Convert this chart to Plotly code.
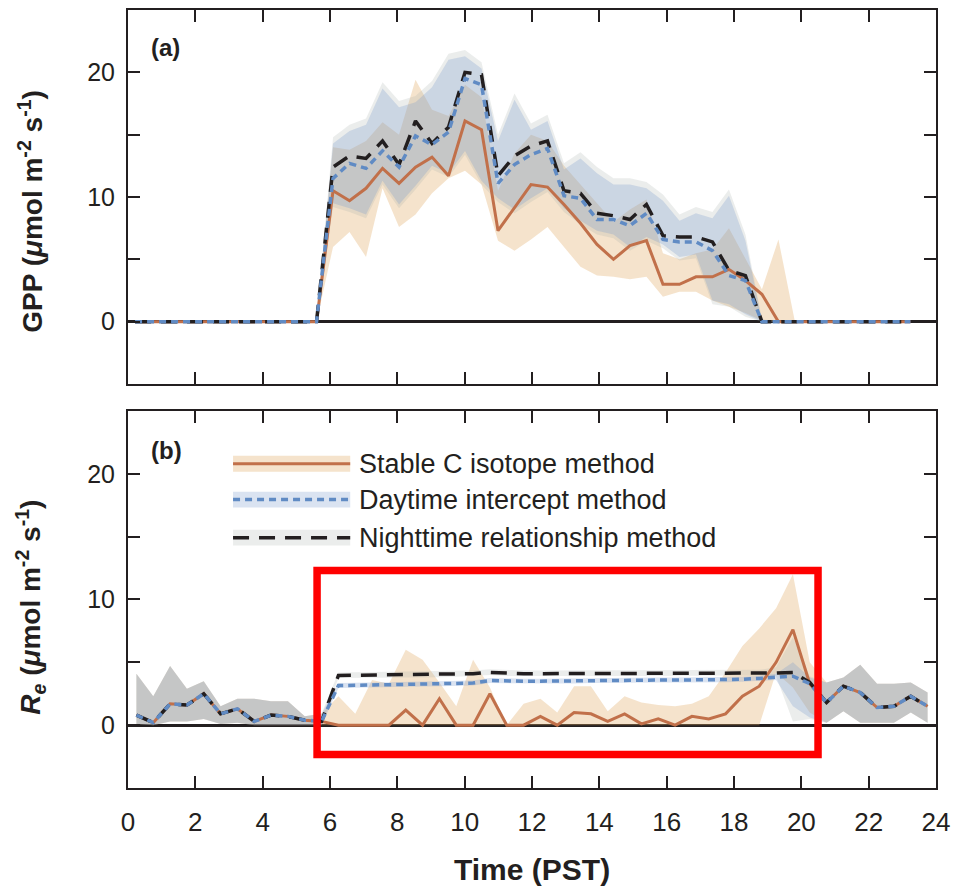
import plotly.graph_objects as go

# ---------------------------------------------------------------------------
# Data: half-hourly diel courses (hours PST)
# ---------------------------------------------------------------------------
hour_a = [0.21, 0.70, 1.19, 1.68, 2.17, 2.66, 3.15, 3.64, 4.13, 4.62, 5.11, 5.60,
          6.09, 6.58, 7.07, 7.56, 8.05, 8.54, 9.03, 9.52, 10.01, 10.50, 10.99, 11.48,
          11.97, 12.46, 12.95, 13.44, 13.93, 14.42, 14.91, 15.40, 15.89, 16.38, 16.87, 17.36,
          17.85, 18.34, 18.83, 19.32, 19.81, 20.30, 20.79, 21.28, 21.77, 22.26, 22.75, 23.24]

hour_b = [0.25, 0.75, 1.25, 1.75, 2.25, 2.75, 3.25, 3.75, 4.25, 4.75, 5.25, 5.75,
          6.25, 6.75, 7.25, 7.75, 8.25, 8.75, 9.25, 9.75, 10.25, 10.75, 11.25, 11.75,
          12.25, 12.75, 13.25, 13.75, 14.25, 14.75, 15.25, 15.75, 16.25, 16.75, 17.25, 17.75,
          18.25, 18.75, 19.25, 19.75, 20.25, 20.75, 21.25, 21.75, 22.25, 22.75, 23.25, 23.75]

# (a) GPP
gpp_isotope = [0, 0, 0, 0, 0, 0, 0, 0, 0, 0, 0, 0,
               10.5, 9.7, 10.7, 12.3, 11.1, 12.4, 13.2, 11.7, 16.1, 15.4, 7.3, 9.1,
               11.0, 10.8, 9.4, 7.9, 6.2, 5.0, 6.1, 6.5, 3.0, 3.0, 3.6, 3.6,
               4.2, 3.3, 2.2, 0, 0, 0, 0, 0, 0, 0, 0, 0]
gpp_isotope_lo = [0, 0, 0, 0, 0, 0, 0, 0, 0, 0, 0, 0,
                  6.0, 7.2, 5.2, 10.7, 7.6, 8.6, 10.3, 11.5, 12.1, 11.0, 6.5, 5.7,
                  6.6, 7.6, 6.0, 4.4, 3.7, 3.6, 3.4, 3.6, 2.0, 2.4, 2.4, 1.7,
                  1.2, 0.7, 0.1, 0, 0, 0, 0, 0, 0, 0, 0, 0]
gpp_isotope_hi = [0, 0, 0, 0, 0, 0, 0, 0, 0, 0, 0, 0,
                  14.0, 13.8, 14.5, 16.0, 15.0, 19.4, 17.0, 16.5, 19.0, 18.0, 10.5, 13.5,
                  15.0, 14.5, 12.5, 11.0, 9.5, 8.0, 9.0, 9.8, 5.5, 5.0, 5.5, 5.8,
                  7.5, 5.0, 2.6, 6.6, 0, 0, 0, 0, 0, 0, 0, 0]

gpp_daytime = [0, 0, 0, 0, 0, 0, 0, 0, 0, 0, 0, 0,
               11.5, 12.7, 12.3, 13.7, 12.4, 14.9, 14.2, 15.2, 19.5, 19.0, 11.1, 12.6,
               13.4, 13.9, 10.1, 9.9, 8.2, 8.2, 7.7, 8.7, 6.6, 6.4, 6.4, 5.7,
               3.7, 3.3, 0, 0, 0, 0, 0, 0, 0, 0, 0, 0]
gpp_daytime_lo = [0, 0, 0, 0, 0, 0, 0, 0, 0, 0, 0, 0,
                  9.5, 9.1, 8.6, 11.3, 9.4, 10.9, 12.5, 11.9, 13.7, 11.3, 9.9, 9.0,
                  9.9, 10.7, 9.1, 8.1, 7.3, 7.0, 6.0, 6.8, 6.2, 5.2, 5.4, 1.7,
                  1.4, 0.6, 0, 0, 0, 0, 0, 0, 0, 0, 0, 0]
gpp_daytime_hi = [0, 0, 0, 0, 0, 0, 0, 0, 0, 0, 0, 0,
                  14.3, 15.3, 15.8, 18.7, 17.2, 17.6, 18.8, 21.0, 21.3, 20.3, 14.5, 17.8,
                  15.4, 16.1, 12.2, 13.1, 11.9, 11.0, 11.0, 10.7, 9.7, 8.1, 8.7, 8.3,
                  10.1, 6.5, 0.1, 0, 0, 0, 0, 0, 0, 0, 0, 0]

gpp_nighttime = [0, 0, 0, 0, 0, 0, 0, 0, 0, 0, 0, 0,
                 12.4, 13.3, 13.1, 14.5, 12.6, 16.1, 14.3, 15.6, 20.0, 19.8, 11.7, 13.3,
                 14.1, 14.5, 10.5, 10.3, 8.7, 8.5, 8.2, 9.4, 6.9, 6.8, 6.8, 6.4,
                 4.1, 3.7, 0, 0, 0, 0, 0, 0, 0, 0, 0, 0]
gpp_nighttime_lo = [0, 0, 0, 0, 0, 0, 0, 0, 0, 0, 0, 0,
                    9.2, 8.8, 8.3, 11.0, 9.1, 10.6, 12.2, 11.6, 13.4, 11.0, 9.6, 8.7,
                    9.6, 10.4, 8.8, 7.8, 7.0, 6.7, 5.7, 6.5, 5.9, 4.9, 5.1, 1.4,
                    1.2, 0.4, 0, 0, 0, 0, 0, 0, 0, 0, 0, 0]
gpp_nighttime_hi = [0, 0, 0, 0, 0, 0, 0, 0, 0, 0, 0, 0,
                    14.8, 15.8, 16.3, 19.2, 17.7, 18.1, 19.3, 21.5, 21.8, 20.8, 15.0, 18.3,
                    15.9, 16.6, 12.7, 13.6, 12.4, 11.5, 11.5, 11.2, 10.2, 8.6, 9.2, 8.8,
                    10.6, 7.0, 0.2, 0, 0, 0, 0, 0, 0, 0, 0, 0]

# (b) Re -- night hours are common to all three methods
re_pre_dawn = [0.8, 0.2, 1.7, 1.6, 2.5, 0.9, 1.3, 0.3, 0.8, 0.7, 0.4, 0.3]
re_pre_dawn_lo = [0.1, 0.0, 0.3, 0.3, 0.5, 0.1, 0.2, 0.0, 0.0, 0.0, 0.0, 0.0]
re_pre_dawn_hi = [4.1, 2.3, 4.7, 2.9, 3.5, 1.5, 2.1, 2.1, 1.9, 1.9, 0.7, 0.9]
re_evening = [1.8, 3.1, 2.6, 1.4, 1.5, 2.3, 1.5]
re_evening_lo = [0.2, 1.1, 0.2, 0.2, 0.2, 1.0, 0.2]
re_evening_hi = [3.4, 3.8, 4.8, 3.3, 3.3, 3.4, 2.6]

re_isotope_day = [0, 0, 0, 0, 1.2, 0, 2.1, 0, 0, 2.5, 0, 0, 0.7, 0, 1.0, 0.9, 0.3,
                  0.9, 0.1, 0.5, 0, 0.7, 0.5, 0.9, 2.3, 3.1, 5.0, 7.6, 3.3]
re_isotope_day_lo = [0, 0, 0, 0, 0, 0, 0, 0, 0, 0, 0, 0, 0, 0, 0, 0, 0,
                     0, 0, 0, 0, 0, 0, 0, 0, 0, 4.2, 3.0, 1.0]
re_isotope_day_hi = [2.3, 0.9, 3.6, 3.3, 6.0, 5.2, 3.4, 1.5, 5.2, 3.0, 0.0, 1.7, 2.1, 1.0, 3.1, 3.1, 1.1,
                     2.3, 1.8, 1.6, 1.5, 1.7, 2.3, 4.2, 6.3, 7.7, 9.3, 12.0, 5.0]

re_daytime_day = [3.15, 3.2, 3.2, 3.22, 3.25, 3.27, 3.3, 3.3, 3.35, 3.55, 3.5, 3.5, 3.5, 3.52, 3.52,
                  3.55, 3.55, 3.58, 3.6, 3.6, 3.6, 3.6, 3.6, 3.62, 3.65, 3.72, 3.82, 3.9, 3.3]
re_daytime_day_lo = [2.95, 3.0, 3.0, 3.02, 3.05, 3.07, 3.1, 3.1, 3.15, 3.35, 3.3, 3.3, 3.3, 3.32, 3.32,
                     3.35, 3.35, 3.38, 3.4, 3.4, 3.4, 3.4, 3.4, 3.42, 3.45, 3.52, 3.6, 1.5, 0.6]
re_daytime_day_hi = [3.35, 3.4, 3.4, 3.42, 3.45, 3.47, 3.5, 3.5, 3.55, 3.75, 3.7, 3.7, 3.7, 3.72, 3.72,
                     3.75, 3.75, 3.78, 3.8, 3.8, 3.8, 3.8, 3.8, 3.82, 3.85, 3.92, 4.1, 5.0, 3.8]

re_nighttime_day = [3.95, 3.97, 3.98, 3.99, 4.0, 4.0, 4.02, 4.05, 4.1, 4.2, 4.12, 4.1, 4.1, 4.1, 4.1,
                    4.1, 4.1, 4.12, 4.12, 4.12, 4.13, 4.13, 4.13, 4.15, 4.15, 4.15, 4.15, 4.2, 3.4]
re_nighttime_day_lo = [3.75, 3.77, 3.78, 3.79, 3.8, 3.8, 3.82, 3.85, 3.9, 4.0, 3.92, 3.9, 3.9, 3.9, 3.9,
                       3.9, 3.9, 3.92, 3.92, 3.92, 3.93, 3.93, 3.93, 3.95, 3.95, 3.95, 3.9, 0.3, 0.5]
re_nighttime_day_hi = [4.2, 4.22, 4.23, 4.24, 4.25, 4.25, 4.27, 4.3, 4.35, 4.45, 4.37, 4.35, 4.35, 4.35, 4.35,
                       4.35, 4.35, 4.37, 4.37, 4.37, 4.38, 4.38, 4.38, 4.4, 4.4, 4.4, 4.6, 7.0, 3.9]

x_ticks = [0, 2, 4, 6, 8, 10, 12, 14, 16, 18, 20, 22, 24]
y_ticks = [0, 5, 10, 15, 20]
y_tick_text = ["0", "", "10", "", "20"]

methods = ["Stable C isotope method", "Daytime intercept method", "Nighttime relationship method"]

# ---------------------------------------------------------------------------
# Styling
# ---------------------------------------------------------------------------
INK = "#231f20"
FONT = "Liberation Sans, Arial, Helvetica, sans-serif"

line_color = {"iso": "#c1704a", "day": "#608bc4", "night": INK}
band_color = {"iso": "rgba(225,170,100,0.33)", "day": "rgba(120,150,205,0.27)",
              "night": "rgba(165,172,170,0.22)"}
line_dash = {"iso": "solid", "day": "7px,5px", "night": "16px,10px"}
line_width = {"iso": 3, "day": 3.5, "night": 3.5}

fig = go.Figure()


def add_band(x, lo, hi, key, xa, ya):
    fig.add_trace(go.Scatter(
        x=list(x) + list(x)[::-1], y=list(hi) + list(lo)[::-1],
        mode="lines", fill="toself", fillcolor=band_color[key],
        line=dict(width=0), hoverinfo="skip", showlegend=False,
        xaxis=xa, yaxis=ya))


def add_line(x, y, key, xa, ya):
    fig.add_trace(go.Scatter(
        x=x, y=y, mode="lines",
        line=dict(color=line_color[key], width=line_width[key], dash=line_dash[key]),
        showlegend=False, xaxis=xa, yaxis=ya))


# Panel (a)
add_band(hour_a, gpp_isotope_lo, gpp_isotope_hi, "iso", "x", "y")
add_band(hour_a, gpp_nighttime_lo, gpp_nighttime_hi, "night", "x", "y")
add_band(hour_a, gpp_daytime_lo, gpp_daytime_hi, "day", "x", "y")
add_line(hour_a, gpp_isotope, "iso", "x", "y")
add_line(hour_a, gpp_nighttime, "night", "x", "y")
add_line(hour_a, gpp_daytime, "day", "x", "y")

# Panel (b): assemble full-day series from night and daytime parts
re_iso = re_pre_dawn + re_isotope_day + re_evening
re_iso_lo = re_pre_dawn_lo + re_isotope_day_lo + re_evening_lo
re_iso_hi = re_pre_dawn_hi + re_isotope_day_hi + re_evening_hi
re_day = re_pre_dawn + re_daytime_day + re_evening
re_day_lo = re_pre_dawn_lo + re_daytime_day_lo + re_evening_lo
re_day_hi = re_pre_dawn_hi + re_daytime_day_hi + re_evening_hi
re_nig = re_pre_dawn + re_nighttime_day + re_evening
re_nig_lo = re_pre_dawn_lo + re_nighttime_day_lo + re_evening_lo
re_nig_hi = re_pre_dawn_hi + re_nighttime_day_hi + re_evening_hi

add_band(hour_b, re_iso_lo, re_iso_hi, "iso", "x2", "y2")
add_band(hour_b, re_nig_lo, re_nig_hi, "night", "x2", "y2")
add_band(hour_b, re_day_lo, re_day_hi, "day", "x2", "y2")
add_line(hour_b, re_iso, "iso", "x2", "y2")
add_line(hour_b, re_nig, "night", "x2", "y2")
add_line(hour_b, re_day, "day", "x2", "y2")

axis_common = dict(
    showline=True, linecolor=INK, linewidth=2, mirror="ticks",
    ticks="inside", ticklen=12, tickwidth=2, tickcolor=INK,
    showgrid=False, tickfont=dict(family=FONT, size=25, color=INK),
)

x_common = dict(axis_common, range=[0, 24], tickmode="array", tickvals=x_ticks, zeroline=False)
y_common = dict(axis_common, range=[-5, 25], tickmode="array", tickvals=y_ticks,
                ticktext=y_tick_text, zeroline=True, zerolinecolor=INK, zerolinewidth=2.5,
                ticklabelstandoff=6)

fig.update_layout(
    width=965, height=889, autosize=False,
    margin=dict(l=128, r=29, t=8, b=101),
    paper_bgcolor="white", plot_bgcolor="white",
    showlegend=False,
    xaxis=dict(x_common, domain=[0, 1], anchor="y", showticklabels=False),
    yaxis=dict(y_common, domain=[0.5192, 1], anchor="x"),
    xaxis2=dict(x_common, domain=[0, 1], anchor="y2",
                tickfont=dict(family=FONT, size=26, color=INK), ticklabelstandoff=10),
    yaxis2=dict(y_common, domain=[0, 0.4846], anchor="x2"),
)

# Axis titles and panel tags
title_font = dict(family=FONT, size=28, color=INK)
annotations = [
    dict(text="<b>GPP (<i>μ</i>mol m<sup>-2</sup> s<sup>-1</sup>)</b>", textangle=-90,
         xref="paper", yref="paper", x=-0.121, y=0.741, xanchor="center", yanchor="middle",
         showarrow=False, font=title_font),
    dict(text="<b><i>R<sub>e</sub></i> (<i>μ</i>mol m<sup>-2</sup> s<sup>-1</sup>)</b>", textangle=-90,
         xref="paper", yref="paper", x=-0.121, y=0.232, xanchor="center", yanchor="middle",
         showarrow=False, font=title_font),
    dict(text="<b>Time (PST)</b>", xref="paper", yref="paper", x=0.5, y=-0.105,
         xanchor="center", yanchor="middle", showarrow=False,
         font=dict(family=FONT, size=30, color=INK)),
    dict(text="<b>(a)</b>", xref="x domain", yref="y domain", x=0.026, y=0.899,
         xanchor="left", yanchor="middle", showarrow=False,
         font=dict(family=FONT, size=24, color=INK)),
    dict(text="<b>(b)</b>", xref="x2 domain", yref="y2 domain", x=0.026, y=0.894,
         xanchor="left", yanchor="middle", showarrow=False,
         font=dict(family=FONT, size=24, color=INK)),
]

# Hand-drawn key inside panel (b): band swatch + line sample + label
shapes = []
key_rows = [("iso", 0.860), ("day", 0.765), ("night", 0.664)]
sw_x0, sw_x1, sw_h = 0.130, 0.275, 0.021
for (key, yc), label in zip(key_rows, methods):
    shapes.append(dict(type="rect", xref="x2 domain", yref="y2 domain",
                       x0=sw_x0, x1=sw_x1, y0=yc - sw_h, y1=yc + sw_h,
                       fillcolor=band_color[key], line=dict(width=0), layer="above"))
    shapes.append(dict(type="line", xref="x2 domain", yref="y2 domain",
                       x0=sw_x0, x1=sw_x1, y0=yc, y1=yc, layer="above",
                       line=dict(color=line_color[key], width=line_width[key],
                                 dash=line_dash[key])))
    annotations.append(dict(text=label, xref="x2 domain", yref="y2 domain",
                            x=0.283, y=yc, xanchor="left", yanchor="middle",
                            showarrow=False, font=dict(family=FONT, size=27, color=INK)))

# Highlight frame around the daytime Re period
shapes.append(dict(type="rect", xref="x2 domain", yref="y2 domain",
                   x0=0.234, x1=0.854, y0=0.0886, y1=0.577,
                   line=dict(color="#ff0000", width=7.5), fillcolor="rgba(0,0,0,0)",
                   layer="above"))

fig.update_layout(annotations=annotations, shapes=shapes)

fig.write_html("out.html")
